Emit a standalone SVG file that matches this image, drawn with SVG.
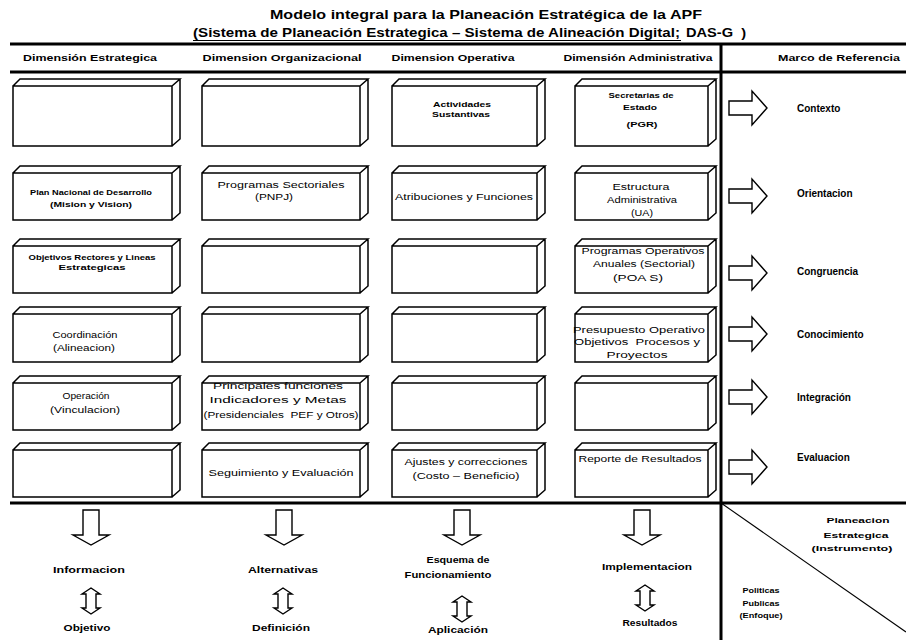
<svg xmlns="http://www.w3.org/2000/svg" xmlns:xlink="http://www.w3.org/1999/xlink" width="906" height="640" viewBox="0 0 906 640">
  <style>
    text { font-family: "Liberation Sans", Arial, sans-serif; fill: #000; text-anchor: middle; }
    .title { font-size: 12.5px; font-weight: bold; }
    .hdr { font-size: 9.5px; font-weight: bold; }
    .bt { font-size: 8.5px; }
    .bts { font-size: 6.5px; font-weight: bold; }
    .lbl { font-size: 10px; font-weight: bold; text-anchor: start; }
    .blbl { font-size: 9px; font-weight: bold; }
    .slbl { font-size: 7.5px; font-weight: bold; }
    .box { fill: #fff; stroke: #000; stroke-width: 1.5; stroke-linejoin: miter; }
    .rule { stroke: #000; stroke-width: 3; fill: none; }
    .thin { stroke: #000; stroke-width: 1.1; fill: none; }
    .arrow { fill: #fff; stroke: #000; stroke-width: 1.4; stroke-linejoin: miter; }
  </style>
  <defs>
    <!-- block arrow pointing right, origin at tail centre -->
    <path id="arrowR" d="M0,-7H23V-17L38,0L23,17V7H0Z"/>
    <!-- block arrow pointing down, origin at top centre -->
    <path id="arrowD" d="M-8,0V25H-18L0,35L18,25H8V0Z"/>
    <!-- small two-headed vertical arrow, origin at top tip -->
    <path id="arrowUD" d="M0,0L9,6H5V20H9L0,26L-9,20H-5V6H-9Z"/>
  </defs>

  <rect width="906" height="640" fill="#fff"/>

  <!-- titles -->
  <g id="title">
    <text class="title" x="486" y="19" textLength="432" lengthAdjust="spacingAndGlyphs">Modelo integral para la Planeación Estratégica de la APF</text>
    <text class="title" x="436.5" y="37" font-size="11.5" textLength="487" lengthAdjust="spacingAndGlyphs">(Sistema de Planeación Estrategica – Sistema de Alineación Digital;</text>
    <text class="title" x="716" y="37" font-size="11.5" textLength="60" lengthAdjust="spacingAndGlyphs" style="white-space:pre">DAS-G  )</text>
    <line class="thin" x1="193" y1="40.5" x2="681" y2="40.5"/>
  </g>

  <!-- frame rules -->
  <g id="frame">
    <line class="rule" x1="10" y1="44" x2="906" y2="44"/>
    <line class="rule" x1="10" y1="72" x2="906" y2="72"/>
    <line class="rule" x1="721" y1="44" x2="721" y2="640"/>
    <line class="rule" x1="10" y1="503" x2="906" y2="503"/>
    <line class="thin" x1="721" y1="503" x2="906" y2="632"/>
  </g>

  <!-- column headers -->
  <g id="headers">
    <text class="hdr" x="90" y="60.5" textLength="134" lengthAdjust="spacingAndGlyphs">Dimensión Estrategica</text>
    <text class="hdr" x="282" y="60.5" textLength="159" lengthAdjust="spacingAndGlyphs">Dimension Organizacional</text>
    <text class="hdr" x="453" y="60.5" textLength="123" lengthAdjust="spacingAndGlyphs">Dimension Operativa</text>
    <text class="hdr" x="638" y="60.5" textLength="149" lengthAdjust="spacingAndGlyphs">Dimensión Administrativa</text>
    <text class="hdr" x="839" y="60.5" textLength="122" lengthAdjust="spacingAndGlyphs">Marco de Referencia</text>
  </g>

  <!-- row 1 -->
  <g id="est-1"><path class="box" d="M13,86H172V146H13Z M13,86L20,79H180L172,86 M180,79V139L172,146"/></g>
  <g id="org-1"><path class="box" d="M202,86H360V146H202Z M202,86L209,79H368L360,86 M368,79V139L360,146"/></g>
  <g id="ope-1">
    <path class="box" d="M392,86H537V146H392Z M392,86L399,79H545L537,86 M545,79V139L537,146"/>
    <text class="bts" x="462" y="106.5" textLength="58" lengthAdjust="spacingAndGlyphs">Actividades</text>
    <text class="bts" x="461" y="117" textLength="58" lengthAdjust="spacingAndGlyphs">Sustantivas</text>
  </g>
  <g id="adm-1">
    <path class="box" d="M575,86H708V146H575Z M575,86L582,79H716L708,86 M716,79V139L708,146"/>
    <text class="bts" x="641" y="97.5" textLength="65" lengthAdjust="spacingAndGlyphs">Secretarias de</text>
    <text class="bts" x="640" y="109.5" textLength="34" lengthAdjust="spacingAndGlyphs">Estado</text>
    <text class="bts" x="642" y="126.5" textLength="31" lengthAdjust="spacingAndGlyphs">(PGR)</text>
  </g>

  <!-- row 2 -->
  <g id="est-2">
    <path class="box" d="M13,173H172V220H13Z M13,173L20,166H180L172,173 M180,166V213L172,220"/>
    <text class="bts" x="91" y="194.5" textLength="122" lengthAdjust="spacingAndGlyphs">Plan Nacional de Desarrollo</text>
    <text class="bts" x="91" y="206.5" textLength="82" lengthAdjust="spacingAndGlyphs">(Mision y Vision)</text>
  </g>
  <g id="org-2">
    <path class="box" d="M202,173H360V220H202Z M202,173L209,166H368L360,173 M368,166V213L360,220"/>
    <text class="bt" x="281" y="187.5" font-size="9.5" textLength="127" lengthAdjust="spacingAndGlyphs">Programas Sectoriales</text>
    <text class="bt" x="274" y="200" font-size="9.5" textLength="38" lengthAdjust="spacingAndGlyphs">(PNPJ)</text>
  </g>
  <g id="ope-2">
    <path class="box" d="M392,173H537V220H392Z M392,173L399,166H545L537,173 M545,166V213L537,220"/>
    <text class="bt" x="464" y="200" textLength="138" lengthAdjust="spacingAndGlyphs">Atribuciones y Funciones</text>
  </g>
  <g id="adm-2">
    <path class="box" d="M575,173H708V220H575Z M575,173L582,166H716L708,173 M716,166V213L708,220"/>
    <text class="bt" x="641" y="190" textLength="57" lengthAdjust="spacingAndGlyphs">Estructura</text>
    <text class="bt" x="642" y="203" font-size="7.5" textLength="70" lengthAdjust="spacingAndGlyphs">Administrativa</text>
    <text class="bt" x="642" y="216" textLength="22" lengthAdjust="spacingAndGlyphs">(UA)</text>
  </g>

  <!-- row 3 -->
  <g id="est-3">
    <path class="box" d="M13,246H172V293H13Z M13,246L20,239H180L172,246 M180,239V286L172,293"/>
    <text class="bts" x="92" y="259.5" textLength="127" lengthAdjust="spacingAndGlyphs">Objetivos Rectores y Lineas</text>
    <text class="bts" x="92" y="269.5" textLength="67" lengthAdjust="spacingAndGlyphs">Estrategicas</text>
  </g>
  <g id="org-3"><path class="box" d="M202,246H360V293H202Z M202,246L209,239H368L360,246 M368,239V286L360,293"/></g>
  <g id="ope-3"><path class="box" d="M392,246H537V293H392Z M392,246L399,239H545L537,246 M545,239V286L537,293"/></g>
  <g id="adm-3">
    <path class="box" d="M575,246H708V293H575Z M575,246L582,239H716L708,246 M716,239V286L708,293"/>
    <text class="bt" x="643" y="254" textLength="123" lengthAdjust="spacingAndGlyphs">Programas Operativos</text>
    <text class="bt" x="644" y="267" textLength="102" lengthAdjust="spacingAndGlyphs">Anuales (Sectorial)</text>
    <text class="bt" x="638" y="281" textLength="50" lengthAdjust="spacingAndGlyphs">(POA S)</text>
  </g>

  <!-- row 4 -->
  <g id="est-4">
    <path class="box" d="M13,314H172V362H13Z M13,314L20,307H180L172,314 M180,307V355L172,362"/>
    <text class="bt" x="85" y="338" textLength="65" lengthAdjust="spacingAndGlyphs">Coordinación</text>
    <text class="bt" x="84" y="351" textLength="62" lengthAdjust="spacingAndGlyphs">(Alineacion)</text>
  </g>
  <g id="org-4"><path class="box" d="M202,314H360V362H202Z M202,314L209,307H368L360,314 M368,307V355L360,362"/></g>
  <g id="ope-4"><path class="box" d="M392,314H537V362H392Z M392,314L399,307H545L537,314 M545,307V355L537,362"/></g>
  <g id="adm-4">
    <path class="box" d="M575,314H708V362H575Z M575,314L582,307H716L708,314 M716,307V355L708,362"/>
    <text class="bt" x="639" y="333" textLength="132" lengthAdjust="spacingAndGlyphs">Presupuesto Operativo</text>
    <text class="bt" x="637" y="345" textLength="126" lengthAdjust="spacingAndGlyphs" style="white-space:pre">Objetivos  Procesos y</text>
    <text class="bt" x="637" y="358" textLength="61" lengthAdjust="spacingAndGlyphs">Proyectos</text>
  </g>

  <!-- row 5 -->
  <g id="est-5">
    <path class="box" d="M13,383H172V430H13Z M13,383L20,376H180L172,383 M180,376V423L172,430"/>
    <text class="bt" x="86" y="399" textLength="47" lengthAdjust="spacingAndGlyphs">Operación</text>
    <text class="bt" x="85" y="413" textLength="70" lengthAdjust="spacingAndGlyphs">(Vinculacion)</text>
  </g>
  <g id="org-5">
    <path class="box" d="M202,383H360V430H202Z M202,383L209,376H368L360,383 M368,376V423L360,430"/>
    <text class="bt" x="278" y="389" font-size="9" textLength="130" lengthAdjust="spacingAndGlyphs">Principales funciones</text>
    <text class="bt" x="278" y="403" font-size="9" textLength="137" lengthAdjust="spacingAndGlyphs">Indicadores y Metas</text>
    <text class="bt" x="281" y="418" font-size="9" textLength="155" lengthAdjust="spacingAndGlyphs" style="white-space:pre">(Presidenciales  PEF y Otros)</text>
  </g>
  <g id="ope-5"><path class="box" d="M392,383H537V430H392Z M392,383L399,376H545L537,383 M545,376V423L537,430"/></g>
  <g id="adm-5"><path class="box" d="M575,383H708V430H575Z M575,383L582,376H716L708,383 M716,376V423L708,430"/></g>

  <!-- row 6 -->
  <g id="est-6"><path class="box" d="M13,450H172V497H13Z M13,450L20,443H180L172,450 M180,443V490L172,497"/></g>
  <g id="org-6">
    <path class="box" d="M202,450H360V497H202Z M202,450L209,443H368L360,450 M368,443V490L360,497"/>
    <text class="bt" x="281" y="476" font-size="9" textLength="145" lengthAdjust="spacingAndGlyphs">Seguimiento y Evaluación</text>
  </g>
  <g id="ope-6">
    <path class="box" d="M392,450H537V497H392Z M392,450L399,443H545L537,450 M545,443V490L537,497"/>
    <text class="bt" x="466" y="465" font-size="9" textLength="123" lengthAdjust="spacingAndGlyphs">Ajustes y correcciones</text>
    <text class="bt" x="466" y="479" font-size="9" textLength="107" lengthAdjust="spacingAndGlyphs">(Costo – Beneficio)</text>
  </g>
  <g id="adm-6">
    <path class="box" d="M575,450H708V497H575Z M575,450L582,443H716L708,450 M716,443V490L708,497"/>
    <text class="bt" x="640" y="462" font-size="9" textLength="123" lengthAdjust="spacingAndGlyphs">Reporte de Resultados</text>
  </g>

  <!-- reference frame labels -->
  <g id="ref-contexto"><text class="lbl" x="797" y="111.5">Contexto</text></g>
  <g id="ref-orientacion"><text class="lbl" x="797" y="196.5">Orientacion</text></g>
  <g id="ref-congruencia"><text class="lbl" x="797" y="274.5">Congruencia</text></g>
  <g id="ref-conocimiento"><text class="lbl" x="797" y="337.5">Conocimiento</text></g>
  <g id="ref-integracion"><text class="lbl" x="797" y="400.5">Integración</text></g>
  <g id="ref-evaluacion"><text class="lbl" x="797" y="460.5">Evaluacion</text></g>

  <!-- outcome labels -->
  <g id="out-estrategica">
    <text class="blbl" x="89" y="573" textLength="72" lengthAdjust="spacingAndGlyphs">Informacion</text>
    <text class="blbl" x="87" y="631" textLength="47" lengthAdjust="spacingAndGlyphs">Objetivo</text>
  </g>
  <g id="out-organizacional">
    <text class="blbl" x="283" y="573" textLength="70" lengthAdjust="spacingAndGlyphs">Alternativas</text>
    <text class="blbl" x="281" y="631" textLength="58" lengthAdjust="spacingAndGlyphs">Definición</text>
  </g>
  <g id="out-operativa">
    <text class="blbl" x="458" y="563" textLength="63" lengthAdjust="spacingAndGlyphs">Esquema de</text>
    <text class="blbl" x="448" y="578" textLength="87" lengthAdjust="spacingAndGlyphs">Funcionamiento</text>
    <text class="blbl" x="458" y="633" textLength="60" lengthAdjust="spacingAndGlyphs">Aplicación</text>
  </g>
  <g id="out-administrativa">
    <text class="blbl" x="647" y="570" textLength="90" lengthAdjust="spacingAndGlyphs">Implementacion</text>
    <text class="blbl" x="650" y="626" textLength="55" lengthAdjust="spacingAndGlyphs">Resultados</text>
  </g>
  <g id="quad-planeacion">
    <text class="slbl" x="858" y="523" textLength="63" lengthAdjust="spacingAndGlyphs">Planeacion</text>
    <text class="slbl" x="856" y="538" textLength="65" lengthAdjust="spacingAndGlyphs">Estrategica</text>
    <text class="slbl" x="852" y="551" textLength="81" lengthAdjust="spacingAndGlyphs">(Instrumento)</text>
  </g>
  <g id="quad-politicas">
    <text class="slbl" x="761" y="593" textLength="37" lengthAdjust="spacingAndGlyphs">Politicas</text>
    <text class="slbl" x="761" y="606" textLength="37" lengthAdjust="spacingAndGlyphs">Publicas</text>
    <text class="slbl" x="761" y="618" textLength="43" lengthAdjust="spacingAndGlyphs">(Enfoque)</text>
  </g>

  <!-- connectors: block arrows -->
  <g id="connectors" class="arrow">
    <use xlink:href="#arrowR" x="729" y="108"/>
    <use xlink:href="#arrowR" x="729" y="196"/>
    <use xlink:href="#arrowR" x="729" y="273"/>
    <use xlink:href="#arrowR" x="729" y="334"/>
    <use xlink:href="#arrowR" x="729" y="397"/>
    <use xlink:href="#arrowR" x="729" y="467"/>

    <use xlink:href="#arrowD" x="91" y="510"/>
    <use xlink:href="#arrowD" x="284" y="510"/>
    <use xlink:href="#arrowD" x="462" y="510"/>
    <use xlink:href="#arrowD" x="642" y="510"/>

    <use xlink:href="#arrowUD" x="91" y="588"/>
    <use xlink:href="#arrowUD" x="283" y="588"/>
    <use xlink:href="#arrowUD" x="462" y="596"/>
    <use xlink:href="#arrowUD" x="645" y="585"/>
  </g>
</svg>
